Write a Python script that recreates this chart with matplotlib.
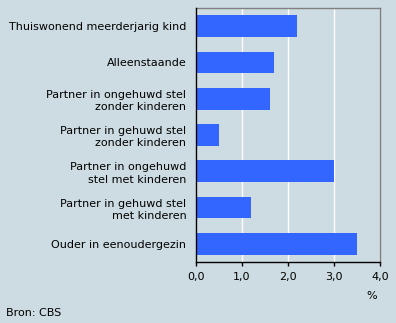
import matplotlib.pyplot as plt
import numpy as np

categories = [
    "Thuiswonend meerderjarig kind",
    "Alleenstaande",
    "Partner in ongehuwd stel\nzonder kinderen",
    "Partner in gehuwd stel\nzonder kinderen",
    "Partner in ongehuwd\nstel met kinderen",
    "Partner in gehuwd stel\nmet kinderen",
    "Ouder in eenoudergezin",
]
values = [2.2, 1.7, 1.6, 0.5, 3.0, 1.2, 3.5]
xticks = [0, 1, 2, 3, 4]
xtick_labels = ["0,0", "1,0", "2,0", "3,0", "4,0"]

bg = "#cddce2"
fs = 8
fig = plt.figure(figsize=(3.96, 3.23), dpi=100, facecolor=bg)
ax = fig.add_axes([0.495, 0.189, 0.465, 0.786], facecolor=bg)

y = np.arange(len(categories))
ax.barh(y, values, height=0.6, color="#3366ff", zorder=3)
ax.set_ylim(len(categories) - 0.5, -0.5)
ax.set_xlim(0, 4)
ax.set_yticks(y)
ax.set_yticklabels(categories, fontsize=fs, linespacing=1.3)
ax.set_xticks(xticks)
ax.set_xticklabels(xtick_labels, fontsize=fs)
ax.tick_params(axis="y", length=0, pad=7)
ax.tick_params(axis="x", length=3, width=1, color="black", pad=4)
ax.grid(axis="x", color="white", linewidth=1, zorder=1)

for s in ["top", "right"]:
    ax.spines[s].set_color("#808080")
    ax.spines[s].set_linewidth(1)
for s in ["left", "bottom"]:
    ax.spines[s].set_color("black")
    ax.spines[s].set_linewidth(1)
    ax.spines[s].set_zorder(4)

fig.text(372 / 396, 1 - 296 / 323, "%", fontsize=fs, ha="center", va="center")
fig.text(6 / 396, 1 - 313 / 323, "Bron: CBS", fontsize=fs, ha="left", va="center")

fig.savefig("out.png", dpi=100, facecolor=bg)
